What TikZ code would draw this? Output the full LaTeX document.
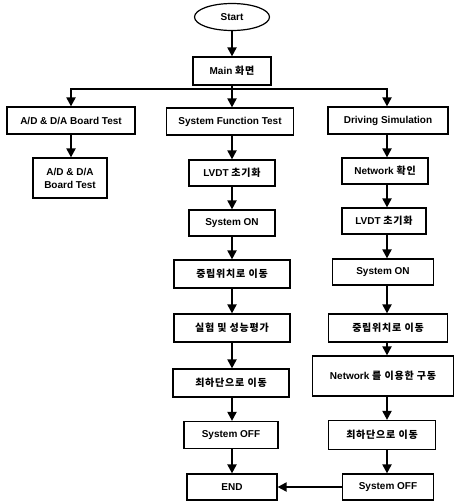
\documentclass[tikz,border=0pt]{standalone}
\usepackage{fontspec}
\setmainfont{Liberation Sans}
\newfontfamily\kr[LetterSpace=8]{Noto Sans CJK KR}
\usetikzlibrary{shapes.geometric,arrows.meta}
\begin{document}
\begin{tikzpicture}[x=1pt,y=-1pt,
  font=\bfseries\fontsize{10}{13}\selectfont,
  box/.style={draw,line width=1.2pt,inner sep=0pt,align=center},
  arr/.style={line width=2pt,-{Triangle[length=9pt,width=9pt]}},
  ln/.style={line width=2pt}]
\useasboundingbox (0,0) rectangle (455,501);
\coordinate (cL) at (71,0);
\coordinate (cM) at (232,0);
\coordinate (cR) at (387,0);
% top
\node[draw,ellipse,line width=1.2pt,minimum width=75pt,minimum height=27pt,inner sep=0pt] (start) at (232,17) {Start};
\node[box,minimum width=78pt,minimum height=28pt] (main) at (232,71) {Main {\kr 화면}};
\coordinate (j) at (232,89);
% row of three
\node[box,minimum width=128pt,minimum height=27pt] (ad1) at (71,120.5) {A/D \& D/A Board Test};
\node[box,minimum width=127pt,minimum height=27pt] (sft) at (230,121.5) {System Function Test};
\node[box,minimum width=120pt,minimum height=27pt] (ds) at (388,120.5) {Driving Simulation};
% left column
\node[box,minimum width=74pt,minimum height=40pt] (ad2) at (70,178) {A/D \& D/A\\Board Test};
% middle column
\node[box,minimum width=86pt,minimum height=26pt] (lvdt1) at (232,173) {LVDT {\kr 초기화}};
\node[box,minimum width=86pt,minimum height=26pt] (on1) at (232,223) {System ON};
\node[box,minimum width=116pt,minimum height=28pt] (mid1) at (232,274) {\kr 중립위치로 이동};
\node[box,minimum width=116pt,minimum height=28pt] (test) at (232,328) {\kr 실험 및 성능평가};
\node[box,minimum width=116pt,minimum height=28pt] (low1) at (231,383) {\kr 최하단으로 이동};
\node[box,minimum width=94pt,minimum height=27pt] (off1) at (231,435) {System OFF};
\node[box,minimum width=90pt,minimum height=26pt] (end) at (232,487) {END};
% right column
\node[box,minimum width=86pt,minimum height=26pt] (net) at (385,171) {Network {\kr 확인}};
\node[box,minimum width=84pt,minimum height=26pt] (lvdt2) at (384,221) {LVDT {\kr 초기화}};
\node[box,minimum width=101pt,minimum height=26pt] (on2) at (383,272) {System ON};
\node[box,minimum width=119pt,minimum height=28pt] (mid2) at (388,328) {\kr 중립위치로 이동};
\node[box,minimum width=141pt,minimum height=40pt] (drive) at (383,376) {Network {\kr 를 이용한 구동}};
\node[box,minimum width=107pt,minimum height=29pt] (low2) at (382,435) {\kr 최하단으로 이동};
\node[box,minimum width=91pt,minimum height=26pt] (off2) at (388,487) {System OFF};
% connectors
\draw[arr] (start.south -| cM) -- (main.north -| cM);
\draw[ln] (main.south -| cM) -- (j);
\draw[arr] (j) -| (ad1.north -| cL);
\draw[arr] (j) -- (sft.north -| cM);
\draw[arr] (j) -| (ds.north -| cR);
\draw[arr] (ad1.south -| cL) -- (ad2.north -| cL);
\draw[arr] (sft.south -| cM) -- (lvdt1.north -| cM);
\draw[arr] (lvdt1.south -| cM) -- (on1.north -| cM);
\draw[arr] (on1.south -| cM) -- (mid1.north -| cM);
\draw[arr] (mid1.south -| cM) -- (test.north -| cM);
\draw[arr] (test.south -| cM) -- (low1.north -| cM);
\draw[arr] (low1.south -| cM) -- (off1.north -| cM);
\draw[arr] (off1.south -| cM) -- (end.north -| cM);
\draw[arr] (ds.south -| cR) -- (net.north -| cR);
\draw[arr] (net.south -| cR) -- (lvdt2.north -| cR);
\draw[arr] (lvdt2.south -| cR) -- (on2.north -| cR);
\draw[arr] (on2.south -| cR) -- (mid2.north -| cR);
\draw[arr] (mid2.south -| cR) -- (drive.north -| cR);
\draw[arr] (drive.south -| cR) -- (low2.north -| cR);
\draw[arr] (low2.south -| cR) -- (off2.north -| cR);
\draw[arr] (off2.west) -- (end.east);
\end{tikzpicture}
\end{document}
